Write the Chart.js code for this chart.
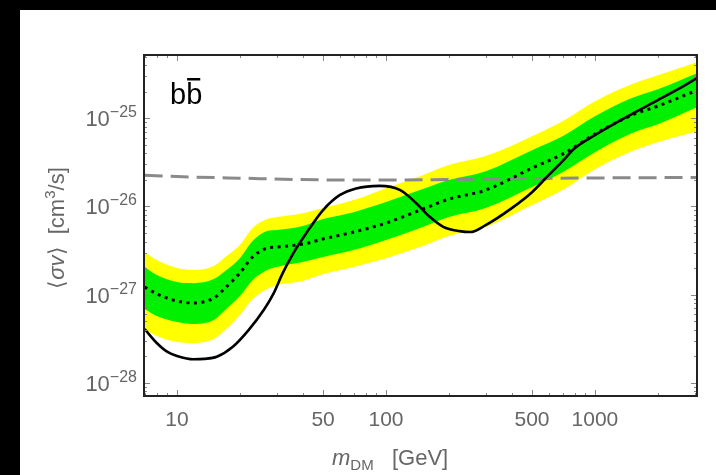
<!DOCTYPE html>
<html>
<head>
<meta charset="utf-8">
<script src="https://cdn.jsdelivr.net/npm/chart.js@4.4.1/dist/chart.umd.min.js"></script>
<style>
  html, body { margin: 0; padding: 0; background: #000; }
  #wrap { position: absolute; left: 20px; top: 10px; width: 696px; height: 465px; background: #fff; }
</style>
</head>
<body>
<div id="wrap"><canvas id="limitChart" width="696" height="465"></canvas></div>
<script>
// DM mass grid (GeV) for the expected-limit bands
const massGrid = [7, 8, 10, 12, 15, 17, 20, 23, 27, 30, 40, 50, 70, 100, 150, 200, 300, 500, 700, 1000, 1500, 2000, 3080];
const expectedMedian = [1.22e-27, 1.02e-27, 8.47e-28, 8.04e-28, 9.15e-28, 1.19e-27, 1.76e-27, 2.67e-27, 3.37e-27, 3.46e-27, 3.74e-27, 4.27e-27, 5.12e-27, 6.47e-27, 9.31e-27, 1.21e-26, 1.53e-26, 2.72e-26, 3.91e-26, 6.59e-26, 1.08e-25, 1.37e-25, 2.07e-25];
const band2Upper = [3.03e-27, 2.47e-27, 2.00e-27, 1.90e-27, 2.11e-27, 2.67e-27, 3.65e-27, 5.68e-27, 7.18e-27, 7.57e-27, 8.39e-27, 9.57e-27, 1.18e-26, 1.61e-26, 2.26e-26, 2.94e-26, 3.72e-26, 6.25e-26, 9.25e-26, 1.56e-25, 2.43e-25, 3.07e-25, 4.31e-25];
const band1Upper = [2.06e-27, 1.67e-27, 1.39e-27, 1.35e-27, 1.50e-27, 1.85e-27, 2.59e-27, 4.05e-27, 5.25e-27, 5.40e-27, 5.98e-27, 7.18e-27, 8.61e-27, 1.12e-26, 1.57e-26, 1.99e-26, 2.51e-26, 4.34e-26, 6.25e-26, 1.05e-25, 1.69e-25, 2.13e-25, 3.23e-25];
const band1Lower = [6.87e-28, 5.73e-28, 4.90e-28, 4.65e-28, 5.15e-28, 6.70e-28, 9.64e-28, 1.46e-27, 1.90e-27, 2.06e-27, 2.34e-27, 2.67e-27, 3.20e-27, 4.15e-27, 5.83e-27, 7.57e-27, 9.57e-27, 1.66e-26, 2.44e-26, 4.12e-26, 6.76e-26, 8.55e-26, 1.33e-25];
const band2Lower = [4.07e-28, 3.40e-28, 2.90e-28, 2.83e-28, 3.14e-28, 3.97e-28, 5.87e-28, 8.91e-28, 1.16e-27, 1.28e-27, 1.43e-27, 1.71e-27, 2.06e-27, 2.59e-27, 3.55e-27, 4.61e-27, 5.83e-27, 1.035e-26, 1.53e-26, 2.64e-26, 4.23e-26, 5.35e-26, 7.12e-26];

// observed limit (solid)
const massObs = [7, 8, 9, 10, 12, 13.5, 15.5, 18.5, 22, 26, 29, 32, 36, 42, 50, 60, 72, 93, 117, 140, 162, 188, 225, 253, 300, 400, 500, 600, 700, 800, 1000, 1500, 2000, 2500, 3080];
const observed = [4.07e-28, 2.83e-28, 2.24e-28, 2.02e-28, 1.85e-28, 1.87e-28, 1.98e-28, 2.57e-28, 3.97e-28, 6.70e-28, 1.035e-27, 1.74e-27, 2.94e-27, 5.16e-27, 9.08e-27, 1.34e-26, 1.60e-26, 1.71e-26, 1.53e-26, 1.08e-26, 7.62e-27, 5.87e-27, 5.25e-27, 5.12e-27, 6.14e-27, 9.57e-27, 1.45e-26, 2.26e-26, 3.26e-26, 4.57e-26, 6.42e-26, 1.11e-25, 1.60e-25, 2.13e-25, 2.85e-25];

// thermal relic cross section (dashed)
const massRelic = [7, 10, 20, 50, 100, 200, 500, 1000, 3080];
const thermalRelic = [2.26e-26, 2.18e-26, 2.09e-26, 2.0e-26, 1.99e-26, 2.02e-26, 2.07e-26, 2.1e-26, 2.13e-26];

// axis ticks
const xTickValues = [10, 50, 100, 500, 1000];
const xTickLabels = ['10', '50', '100', '500', '1000'];
const xMinorTicks = [7, 8, 9, 20, 30, 40, 60, 70, 80, 90, 200, 300, 400, 600, 700, 800, 900, 2000, 3000];
const yTickValues = [1e-28, 1e-27, 1e-26, 1e-25];
const yTickExponents = ['\u221228', '\u221227', '\u221226', '\u221225'];

const toPoints = (xs, ys) => xs.map((m, i) => ({ x: m, y: ys[i] }));

const SANS = '"Liberation Sans", Arial, sans-serif';
const GRAY_TEXT = '#666';

// draws a run of text pieces: [text, font, dy]
function drawRich(ctx, parts, x, y) {
  let cx = x;
  parts.forEach(([txt, font, dy]) => {
    ctx.font = font;
    ctx.fillText(txt, cx, y + (dy || 0));
    cx += ctx.measureText(txt).width;
  });
  return cx - x;
}
function richWidth(ctx, parts) {
  let w = 0;
  parts.forEach(([txt, font]) => { ctx.font = font; w += ctx.measureText(txt).width; });
  return w;
}

const framePlugin = {
  id: 'framePlugin',
  afterDraw(chart) {
    const { ctx, chartArea: a, scales: { x, y } } = chart;
    ctx.save();

    // inward ticks on all four sides
    ctx.strokeStyle = '#888';
    ctx.lineWidth = 1;
    const xTick = (v, len) => {
      const px = Math.round(x.getPixelForValue(v)) + 0.5;
      ctx.beginPath();
      ctx.moveTo(px, a.bottom); ctx.lineTo(px, a.bottom - len);
      ctx.moveTo(px, a.top); ctx.lineTo(px, a.top + len);
      ctx.stroke();
    };
    const yTick = (v, len) => {
      const py = Math.round(y.getPixelForValue(v)) + 0.5;
      ctx.beginPath();
      ctx.moveTo(a.left, py); ctx.lineTo(a.left + len, py);
      ctx.moveTo(a.right, py); ctx.lineTo(a.right - len, py);
      ctx.stroke();
    };
    xMinorTicks.forEach(v => xTick(v, 3));
    xTickValues.forEach(v => xTick(v, 6));
    for (let d = -29; d <= -25; d++) {
      for (let k = 2; k <= 9; k++) {
        const v = k * Math.pow(10, d);
        if (v > y.min && v < y.max) yTick(v, 3);
      }
    }
    yTickValues.forEach(v => yTick(v, 6));

    // frame
    ctx.strokeStyle = '#222';
    ctx.lineWidth = 2;
    ctx.strokeRect(a.left, a.top, a.right - a.left, a.bottom - a.top);

    // x tick labels
    ctx.fillStyle = GRAY_TEXT;
    ctx.font = '21px ' + SANS;
    ctx.textAlign = 'center';
    ctx.textBaseline = 'alphabetic';
    xTickValues.forEach((v, i) => {
      ctx.fillText(xTickLabels[i], x.getPixelForValue(v), a.bottom + 30);
    });

    // y tick labels: 10^n
    ctx.textAlign = 'left';
    yTickValues.forEach((v, i) => {
      const py = y.getPixelForValue(v);
      const parts = [['10', '22px ' + SANS, 0], [yTickExponents[i], '16px ' + SANS, -9]];
      const w = richWidth(ctx, parts);
      drawRich(ctx, parts, a.left - 7 - w, py + 8);
    });

    // y axis title (rotated)
    const yTitle = [
      ['\u27E8', '22px ' + SANS, 0],
      ['\u03C3v', 'italic 22px ' + SANS, 0],
      ['\u27E9  [cm', '22px ' + SANS, 0],
      ['3', '15px ' + SANS, -9],
      ['/s]', '22px ' + SANS, 0]
    ];
    ctx.save();
    ctx.translate(36, 218);
    ctx.rotate(-Math.PI / 2);
    drawRich(ctx, yTitle, -richWidth(ctx, yTitle) / 2, 8);
    ctx.restore();

    // x axis title
    const xTitle = [
      ['m', 'italic 22px ' + SANS, 0],
      ['DM', '15px ' + SANS, 5],
      ['   [GeV]', '22px ' + SANS, 0]
    ];
    drawRich(ctx, xTitle, 312, 455);

    // channel label b b-bar
    ctx.fillStyle = '#000';
    ctx.font = '29px ' + SANS;
    ctx.fillText('bb', a.left + 26, a.top + 49);
    const bw = ctx.measureText('b').width;
    ctx.fillRect(a.left + 26 + bw + 1, a.top + 23, bw - 3, 2.5);

    ctx.restore();
  }
};

new Chart(document.getElementById('limitChart'), {
  type: 'line',
  data: {
    datasets: [
      { data: toPoints(massGrid, band2Upper), backgroundColor: '#ffff00', borderWidth: 0, fill: '+1', order: 6 },
      { data: toPoints(massGrid, band2Lower), borderWidth: 0, fill: false, order: 6 },
      { data: toPoints(massGrid, band1Upper), backgroundColor: '#00f000', borderWidth: 0, fill: '+1', order: 5 },
      { data: toPoints(massGrid, band1Lower), borderWidth: 0, fill: false, order: 5 },
      { data: toPoints(massRelic, thermalRelic), borderColor: '#8a8a8a', borderWidth: 3, borderDash: [18, 8], fill: false, order: 3 },
      { data: toPoints(massGrid, expectedMedian), borderColor: '#000', borderWidth: 3, borderDash: [3, 4.5], fill: false, order: 2 },
      { data: toPoints(massObs, observed), borderColor: '#000', borderWidth: 2.6, fill: false, order: 1 }
    ]
  },
  options: {
    responsive: false,
    animation: false,
    devicePixelRatio: 1,
    layout: { padding: { left: 124, top: 45, right: 19, bottom: 79 } },
    elements: {
      point: { radius: 0 },
      line: { cubicInterpolationMode: 'monotone' }
    },
    plugins: { legend: { display: false }, tooltip: { enabled: false } },
    scales: {
      x: { type: 'logarithmic', min: 6.95, max: 3080, display: false },
      y: { type: 'logarithmic', min: 7.1e-29, max: 5.2e-25, display: false }
    }
  },
  plugins: [framePlugin]
});
</script>
</body>
</html>
